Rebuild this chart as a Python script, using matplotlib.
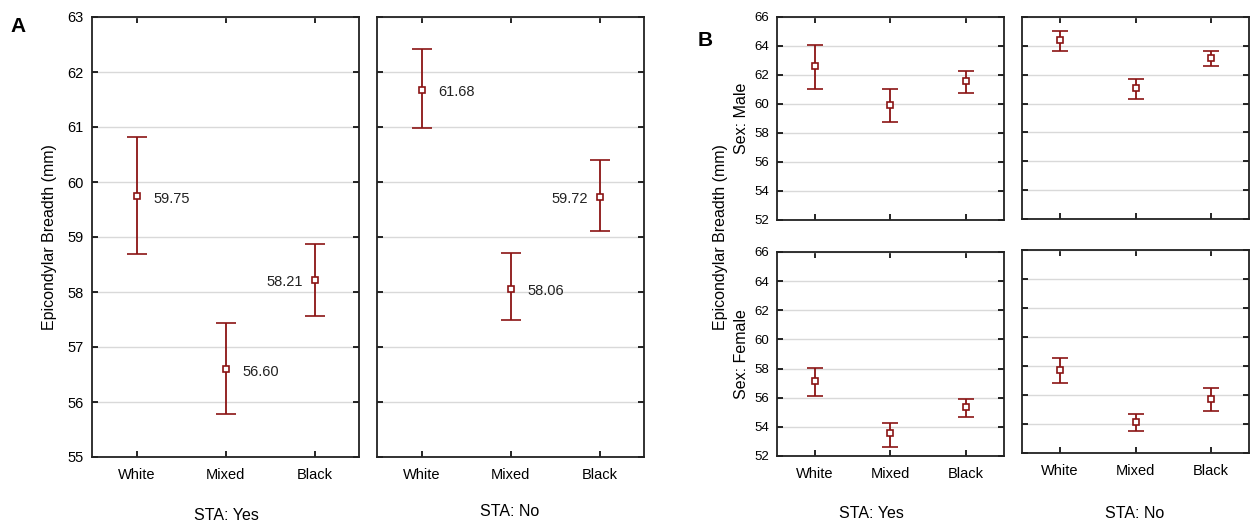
import matplotlib.pyplot as plt

plt.rcParams['font.family'] = ['Liberation Sans', 'DejaVu Sans']

groups = ['White', 'Mixed', 'Black']

# Panel A: means with lower/upper bounds of the interval
a_yes_mean = [59.75, 56.60, 58.21]
a_yes_low = [58.69, 55.78, 57.56]
a_yes_high = [60.82, 57.44, 58.87]
a_no_mean = [61.68, 58.06, 59.72]
a_no_low = [60.98, 57.49, 59.11]
a_no_high = [62.42, 58.71, 60.40]

# Panel B: split by sex
b_male_yes_mean = [62.65, 59.92, 61.59]
b_male_yes_low = [61.04, 58.79, 60.79]
b_male_yes_high = [64.07, 61.00, 62.26]
b_male_no_mean = [64.41, 61.05, 63.17]
b_male_no_low = [63.61, 60.34, 62.59]
b_male_no_high = [65.01, 61.72, 63.67]
b_fem_yes_mean = [57.12, 53.56, 55.35]
b_fem_yes_low = [56.11, 52.64, 54.68]
b_fem_yes_high = [58.06, 54.25, 55.92]
b_fem_no_mean = [57.73, 54.16, 55.75]
b_fem_no_low = [56.86, 53.49, 54.88]
b_fem_no_high = [58.52, 54.67, 56.48]

RED = '#8b1414'
W, H = 1256, 527
fig = plt.figure(figsize=(W / 100, H / 100), dpi=100)


def box(x0, y0, x1, y1):
    return [x0 / W, 1 - y1 / H, (x1 - x0) / W, (y1 - y0) / H]


def panel(rect, mean, low, high, ylim, yticks, cap, fs_y, fs_x, labels=None, show_y=True, show_x=True):
    ax = fig.add_axes(box(*rect))
    x = range(len(groups))
    err = [[m - l for m, l in zip(mean, low)], [h - m for m, h in zip(mean, high)]]
    ax.errorbar(x, mean, yerr=err, fmt='s', color=RED, mfc='white', mec=RED,
                ms=5, mew=1.2, ecolor=RED, elinewidth=1.3, capsize=cap, capthick=1.3, zorder=3)
    ax.set_xlim(-0.5, 2.5)
    ax.set_ylim(*ylim)
    ax.set_xticks(list(x))
    ax.set_xticklabels(groups if show_x else [])
    ax.set_yticks(yticks)
    if not show_y:
        ax.set_yticklabels([])
    ax.tick_params(direction='in', top=True, right=True, length=4, width=1.2)
    ax.tick_params(axis='x', labelsize=fs_x, pad=8)
    ax.tick_params(axis='y', labelsize=fs_y, pad=6)
    ax.grid(axis='y', color='#d9d9d9', lw=1.0)
    ax.set_axisbelow(True)
    for s in ax.spines.values():
        s.set_linewidth(1.3)
        s.set_color('#222222')
    if labels:
        for i, side in enumerate(labels):
            if side == 'r':
                ax.annotate(f'{mean[i]:.2f}', (i, mean[i]), xytext=(12, -2), textcoords='offset points',
                            ha='left', va='center', fontsize=10.5, color='#222222')
            else:
                ax.annotate(f'{mean[i]:.2f}', (i, mean[i]), xytext=(-8, -1), textcoords='offset points',
                            ha='right', va='center', fontsize=10.5, color='#222222')
    return ax


ya = list(range(55, 64))
panel((92, 17, 359, 457), a_yes_mean, a_yes_low, a_yes_high, (55, 63), ya, 7, 10.5, 10.5, ['r', 'r', 'l'])
panel((377, 17, 644, 457), a_no_mean, a_no_low, a_no_high, (55, 63), ya, 7, 10.5, 10.5, ['r', 'r', 'l'], show_y=False)

yb = list(range(52, 67, 2))
panel((777, 17, 1004, 220), b_male_yes_mean, b_male_yes_low, b_male_yes_high, (52, 66), yb, 6, 9.5, 10.5, show_x=False)
panel((1022, 17, 1249, 219), b_male_no_mean, b_male_no_low, b_male_no_high, (52, 66), yb, 6, 9.5, 10.5, show_y=False, show_x=False)
panel((777, 252, 1004, 456), b_fem_yes_mean, b_fem_yes_low, b_fem_yes_high, (52, 66), yb, 6, 9.5, 10.5)
panel((1022, 250, 1249, 453), b_fem_no_mean, b_fem_no_low, b_fem_no_high, (52, 66), yb, 6, 9.5, 10.5, show_y=False)

fig.text(10 / W, 1 - 27 / H, 'A', fontsize=15, fontweight='bold', va='center', ha='left')
fig.text(698 / W, 1 - 40 / H, 'B', fontsize=15, fontweight='bold', va='center', ha='left')

fig.text(50 / W, 1 - 237 / H, 'Epicondylar Breadth (mm)', rotation=90, ha='center', va='center', fontsize=11.5)
fig.text(720 / W, 1 - 237 / H, 'Epicondylar Breadth (mm)', rotation=90, ha='center', va='center', fontsize=11.5)
fig.text(742 / W, 1 - 118 / H, 'Sex: Male', rotation=90, ha='center', va='center', fontsize=11.5)
fig.text(742 / W, 1 - 354 / H, 'Sex: Female', rotation=90, ha='center', va='center', fontsize=11.5)

fig.text(226 / W, 1 - 515 / H, 'STA: Yes', ha='center', va='center', fontsize=11.5)
fig.text(510 / W, 1 - 511 / H, 'STA: No', ha='center', va='center', fontsize=11.5)
fig.text(871 / W, 1 - 514 / H, 'STA: Yes', ha='center', va='center', fontsize=11.5)
fig.text(1135 / W, 1 - 513 / H, 'STA: No', ha='center', va='center', fontsize=11.5)

fig.savefig('out.png', dpi=100)
